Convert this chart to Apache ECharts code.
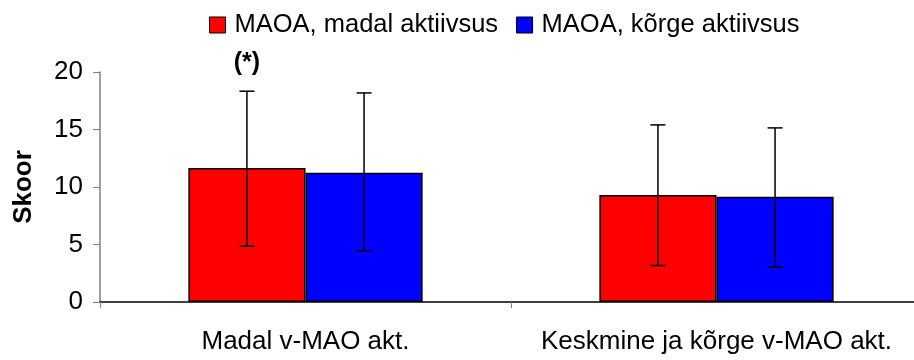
<!DOCTYPE html>
<html>
<head>
<meta charset="utf-8">
<script src="https://cdn.jsdelivr.net/npm/echarts@6/dist/echarts.min.js"></script>
<style>html,body{margin:0;padding:0;background:#fff;overflow:hidden;width:914px;height:360px}#c{width:930px;height:360px}</style>
</head>
<body>
<div id="c"></div>
<script>
// ---- data ----
const categories = ['Madal v-MAO akt.', 'Keskmine ja kõrge v-MAO akt.'];
const seriesNames = ['MAOA, madal aktiivsus', 'MAOA, kõrge aktiivsus'];
const lowActMean = [11.65, 9.31];
const highActMean = [11.24, 9.16];
const lowActErrLow = [4.86, 3.17];
const lowActErrHigh = [18.33, 15.40];
const highActErrLow = [4.45, 3.06];
const highActErrHigh = [18.18, 15.14];
const lowActNotes = ['(*)', ''];
const highActNotes = ['', ''];
const yMin = 0, yMax = 20, yStep = 5;
const yAxisName = 'Skoor';

const FONT = 'Liberation Sans, Arial, sans-serif';
const CAT_GAP = 0.43;

function errSeries(idx, lows, highs, notes) {
  return {
    type: 'custom',
    z: 10,
    clip: false,
    silent: true,
    data: categories.map((c, i) => [i, lows[i], highs[i]]),
    renderItem: function (params, api) {
      const i = api.value(0);
      const top = api.coord([i, api.value(2)]);
      const bot = api.coord([i, api.value(1)]);
      const catW = api.size([1, 0])[0];
      const barW = catW * (1 - CAT_GAP) / 2;
      const x = top[0] + (idx === 0 ? -barW / 2 : barW / 2);
      const cap = 7.5;
      const st = { stroke: '#000', lineWidth: 1.5 };
      const children = [
        { type: 'line', shape: { x1: x, y1: top[1], x2: x, y2: bot[1] }, style: st },
        { type: 'line', shape: { x1: x - cap, y1: top[1], x2: x + cap, y2: top[1] }, style: st },
        { type: 'line', shape: { x1: x - cap, y1: bot[1], x2: x + cap, y2: bot[1] }, style: st }
      ];
      const note = notes[params.dataIndex];
      if (note) {
        children.push({
          type: 'text',
          style: {
            text: note, x: x, y: top[1] - 28, align: 'center', verticalAlign: 'middle',
            font: 'bold 25px ' + FONT, fill: '#000'
          }
        });
      }
      return { type: 'group', children: children };
    }
  };
}

const chart = echarts.init(document.getElementById('c'), null, { renderer: 'canvas' });
chart.setOption({
  animation: false,
  textStyle: { fontFamily: FONT, color: '#000' },
  legend: {
    data: seriesNames,
    left: 209,
    top: 12,
    padding: 0,
    itemWidth: 16,
    itemHeight: 16,
    itemGap: 18,
    icon: 'rect',
    itemStyle: { borderColor: '#000', borderWidth: 1 },
    textStyle: { fontSize: 25.5, color: '#000', fontFamily: FONT, padding: [0, 0, 0, 4] }
  },
  grid: { left: 100, top: 72, width: 822, height: 230, containLabel: false },
  xAxis: {
    type: 'category',
    data: categories,
    axisLine: { lineStyle: { color: '#000', width: 1.5 } },
    axisTick: { show: true, length: 6, lineStyle: { color: '#808080' } },
    axisLabel: { fontSize: 26, color: '#000', margin: 27, fontFamily: FONT, interval: 0 },
    splitLine: { show: false }
  },
  yAxis: {
    type: 'value',
    min: yMin, max: yMax, interval: yStep,
    name: yAxisName,
    nameLocation: 'middle',
    nameGap: 63,
    nameRotate: 90,
    nameTextStyle: { fontSize: 26, fontWeight: 'bold', color: '#000', fontFamily: FONT },
    axisLine: { show: true, lineStyle: { color: '#808080', width: 1.5 } },
    axisTick: { show: true, length: 7, lineStyle: { color: '#808080' } },
    axisLabel: { fontSize: 26, color: '#000', margin: 17, fontFamily: FONT },
    splitLine: { show: false }
  },
  series: [
    {
      name: seriesNames[0], type: 'bar', data: lowActMean,
      barGap: '0%', barCategoryGap: (CAT_GAP * 100) + '%',
      itemStyle: { color: '#ff0000', borderColor: '#000', borderWidth: 1.5 }
    },
    {
      name: seriesNames[1], type: 'bar', data: highActMean,
      barGap: '0%', barCategoryGap: (CAT_GAP * 100) + '%',
      itemStyle: { color: '#0000ff', borderColor: '#000', borderWidth: 1.5 }
    },
    errSeries(0, lowActErrLow, lowActErrHigh, lowActNotes),
    errSeries(1, highActErrLow, highActErrHigh, highActNotes)
  ]
});
</script>
</body>
</html>
